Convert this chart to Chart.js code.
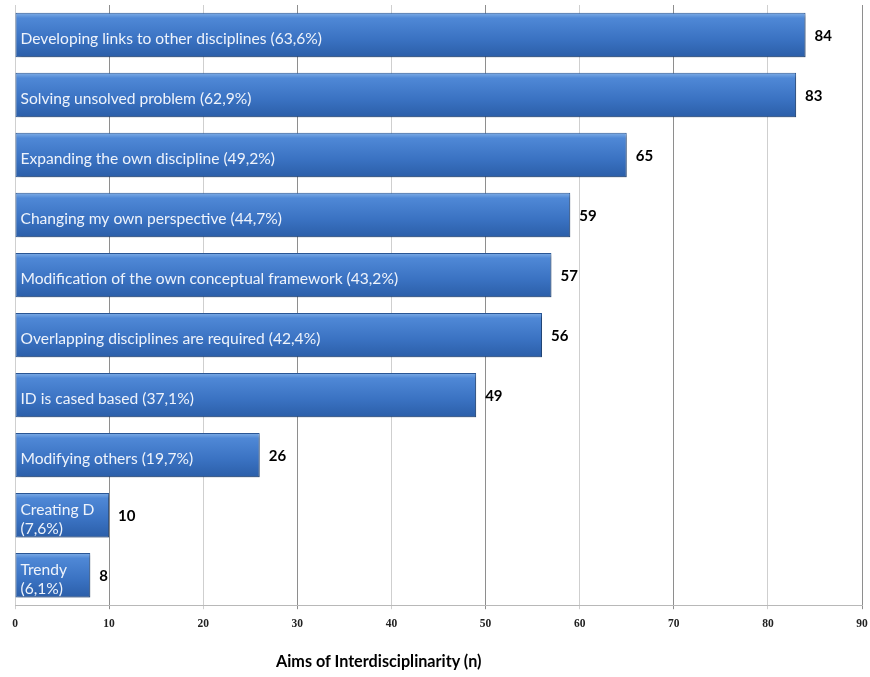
<!DOCTYPE html>
<html>
<head>
<meta charset="utf-8">
<script src="https://cdn.jsdelivr.net/npm/chart.js@4"></script>
<style>
  html, body { margin: 0; padding: 0; background: #fff; overflow: hidden; }
  #wrap { position: relative; width: 870px; height: 677px; }
  #axisTitle {
    position: absolute; left: 276px; top: 651px;
    font: bold 16.2px Lato, sans-serif; color: #000; white-space: nowrap;
  }
</style>
</head>
<body>
<div id="wrap">
  <canvas id="aims" width="870" height="677"></canvas>
  <div id="axisTitle">Aims of Interdisciplinarity (n)</div>
</div>
<script>
// ===================== DADOS ===================== //
const aims = [
  'Developing links to other disciplines (63,6%)',
  'Solving unsolved problem (62,9%)',
  'Expanding the own discipline (49,2%)',
  'Changing my own perspective (44,7%)',
  'Modification of the own conceptual framework (43,2%)',
  'Overlapping disciplines are required (42,4%)',
  'ID is cased based (37,1%)',
  'Modifying others (19,7%)',
  ['Creating D', '(7,6%)'],
  ['Trendy', '(6,1%)']
];
const counts = [84, 83, 65, 59, 57, 56, 49, 26, 10, 8];
const xTicks = [0, 10, 20, 30, 40, 50, 60, 70, 80, 90];

const BAR_PCT = 0.74;

// gradiente vertical de cada barra
function barGradient(context) {
  const chart = context.chart;
  const y = chart.scales.y;
  if (!y || context.dataIndex === undefined) return '#3c72bf';
  const cy = y.getPixelForValue(context.dataIndex);
  const half = Math.abs(y.getPixelForValue(1) - y.getPixelForValue(0)) * BAR_PCT / 2;
  if (!isFinite(cy) || !isFinite(half) || half === 0) return '#3c72bf';
  const g = chart.ctx.createLinearGradient(0, cy - half, 0, cy + half);
  g.addColorStop(0, '#80aee6');
  g.addColorStop(0.12, '#4f88d6');
  g.addColorStop(0.6, '#3a72c2');
  g.addColorStop(1, '#2b5ea8');
  return g;
}

// sombra atrás das barras
const barShadow = {
  id: 'barShadow',
  beforeDatasetsDraw(chart) {
    const ctx = chart.ctx;
    ctx.save();
    ctx.shadowColor = 'rgba(0,0,0,0.35)';
    ctx.shadowBlur = 3;
    ctx.shadowOffsetX = 2;
    ctx.shadowOffsetY = 2;
  },
  afterDatasetsDraw(chart) {
    chart.ctx.restore();
  }
};

// rótulos dentro da barra e valor ao lado
const barLabels = {
  id: 'barLabels',
  afterDatasetsDraw(chart) {
    const ctx = chart.ctx;
    const meta = chart.getDatasetMeta(0);
    ctx.save();
    ctx.textBaseline = 'middle';
    meta.data.forEach((bar, i) => {
      const lines = Array.isArray(aims[i]) ? aims[i] : [aims[i]];
      ctx.font = '15.6px Lato, sans-serif';
      ctx.fillStyle = '#eef3fb';
      ctx.textAlign = 'left';
      const lh = 19;
      const y0 = bar.y + 4 - (lines.length - 1) * lh / 2;
      lines.forEach((t, k) => ctx.fillText(t, bar.base + 5, y0 + k * lh));
      ctx.font = 'bold 15px Lato, sans-serif';
      ctx.fillStyle = '#000';
      ctx.fillText(String(counts[i]), bar.x + 9, bar.y + 1);
    });
    ctx.restore();
  }
};

const ctx = document.getElementById('aims').getContext('2d');
const aimsChart = new Chart(ctx, {
  type: 'bar',
  data: {
    labels: aims,
    datasets: [{
      data: counts,
      backgroundColor: barGradient,
      borderColor: '#2a5796',
      borderWidth: 1,
      borderSkipped: false,
      barPercentage: BAR_PCT,
      categoryPercentage: 1
    }]
  },
  options: {
    indexAxis: 'y',
    responsive: false,
    animation: false,
    layout: { padding: { left: 15, right: 8, top: 5, bottom: 38 } },
    plugins: {
      legend: { display: false },
      tooltip: { enabled: false }
    },
    scales: {
      x: {
        min: 0,
        max: 90,
        afterBuildTicks(axis) { axis.ticks = xTicks.map(v => ({ value: v })); },
        // o rótulo "90" pode passar da área do gráfico
        afterFit(axis) { axis.paddingRight = 0; axis.paddingLeft = 0; },
        grid: {
          color: c => (c.tick && c.tick.value % 20 === 10) ? '#8e8e8e' : '#cfcfcf',
          lineWidth: 1,
          tickLength: 4
        },
        border: { color: '#b8b8b8' },
        ticks: {
          color: '#222',
          padding: 8,
          font: { family: 'Liberation Serif', weight: 'bold', size: 11.5 }
        }
      },
      y: {
        display: false
      }
    }
  },
  plugins: [barShadow, barLabels]
});
</script>
</body>
</html>
